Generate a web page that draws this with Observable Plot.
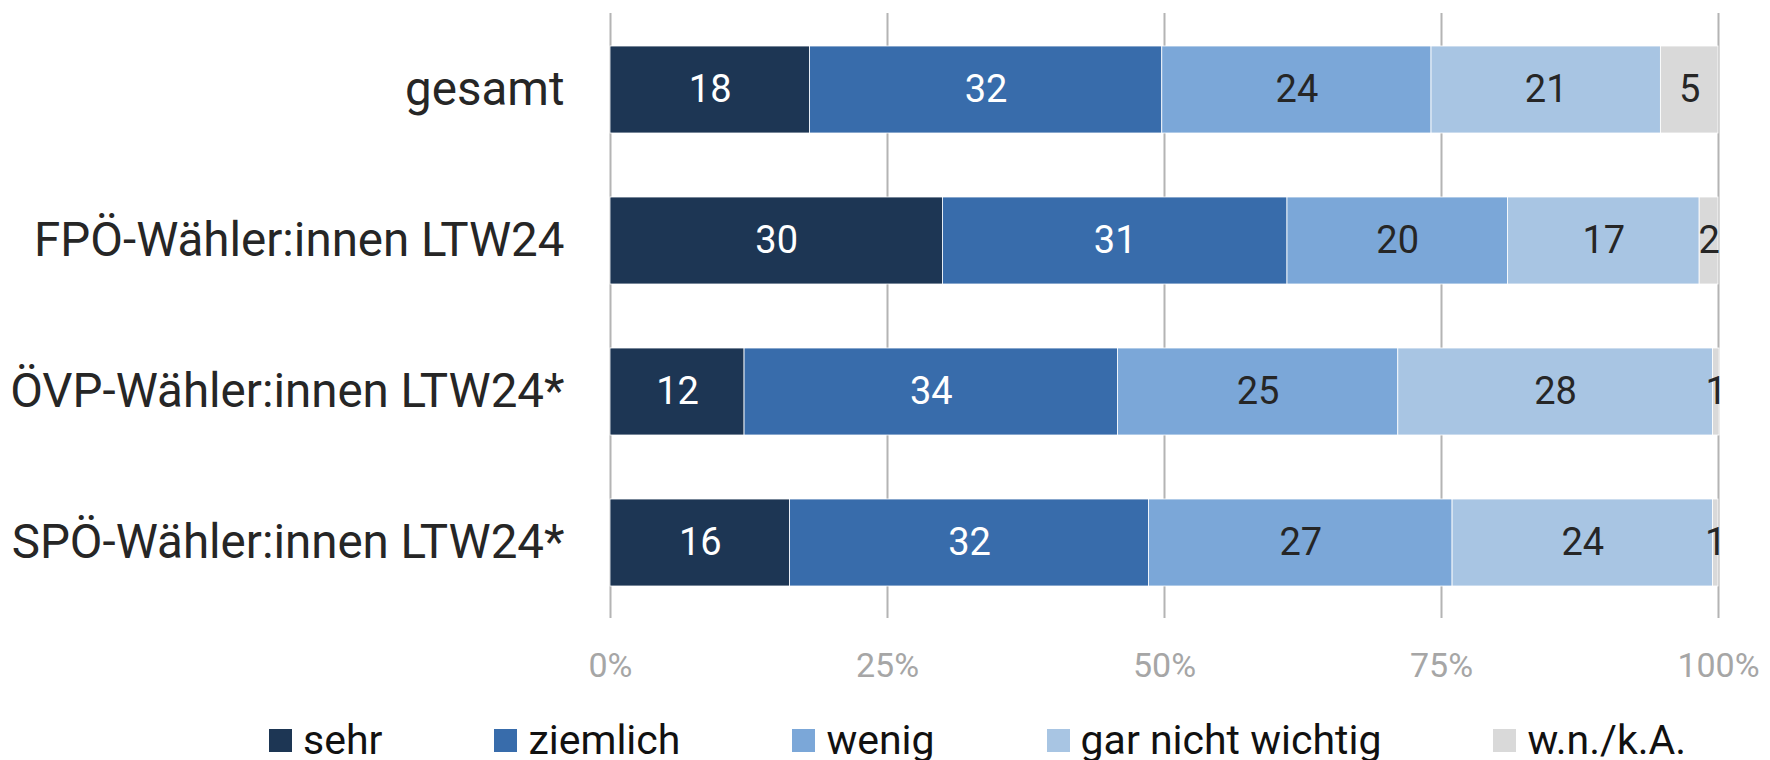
<!DOCTYPE html>
<html>
<head>
<meta charset="utf-8">
<script src="https://cdn.jsdelivr.net/npm/d3@7"></script>
<script src="https://cdn.jsdelivr.net/npm/@observablehq/plot@0.6"></script>
<style>
  html, body { margin: 0; padding: 0; background: #fff; }
  body { width: 1770px; height: 760px; overflow: hidden; font-family: Roboto, "Noto Sans", sans-serif; }
  #legend { display: flex; align-items: center; gap: 112px; padding-left: 269px; height: 40px; margin-top: 20px; }
  .item { display: flex; align-items: center; gap: 11px; font-size: 41px; color: #111; line-height: 1; }
  .sw { width: 23px; height: 23px; display: inline-block; }
</style>
</head>
<body>
<div id="chart"></div>
<div id="legend"></div>
<script>
const categories = ["gesamt", "FPÖ-Wähler:innen LTW24", "ÖVP-Wähler:innen LTW24*", "SPÖ-Wähler:innen LTW24*"];
const series = ["sehr", "ziemlich", "wenig", "gar nicht wichtig", "w.n./k.A."];
const colors = ["#1d3654", "#386cab", "#7ba7d8", "#a8c5e3", "#d9d9d9"];
const sehr      = [18.0, 30.0, 12.1, 16.2];
const ziemlich  = [31.8, 31.1, 33.7, 32.4];
const wenig     = [24.3, 19.9, 25.3, 27.4];
const garNicht  = [20.7, 17.3, 28.4, 23.5];
const wnka      = [5.2, 1.7, 0.6, 0.5];
const ticks = [0, 25, 50, 75, 100];
const whiteLabelSeries = ["sehr", "ziemlich"];

const seriesValues = [sehr, ziemlich, wenig, garNicht, wnka];
const data = [];
categories.forEach((cat, i) => {
  series.forEach((s, j) => data.push({cat, series: s, value: seriesValues[j][i]}));
});

const label = d => String(Math.round(d.value));
const isWhite = d => whiteLabelSeries.includes(d.series);
const textStack = (textFn, fill) => Plot.stackX({
  x: "value", y: "cat", z: "series", order: series, text: textFn,
  fill, fontSize: 38, textAnchor: "middle"
});

const chart = Plot.plot({
  width: 1770,
  height: 700,
  marginLeft: 610,
  marginRight: 52,
  marginTop: 13,
  marginBottom: 82,
  style: {fontFamily: "Roboto, 'Noto Sans', sans-serif", background: "#fff"},
  x: {domain: [0, 100], label: null},
  y: {domain: categories, paddingInner: 0.424, paddingOuter: 0.212, label: null},
  color: {domain: series, range: colors},
  marks: [
    Plot.gridX(ticks, {stroke: "#b4b4b4", strokeOpacity: 1, strokeWidth: 2}),
    Plot.barX(data, Plot.stackX({x: "value", y: "cat", fill: "series", order: series, stroke: "#ffffff", strokeWidth: 0.8})),
    Plot.text(data, textStack(d => isWhite(d) ? label(d) : "", "#ffffff")),
    Plot.text(data, textStack(d => isWhite(d) ? "" : label(d), "#262626")),
    Plot.axisX(ticks, {tickSize: 0, tickPadding: 34, fontSize: 34, color: "#a6a6a6", tickFormat: d => d + "%"}),
    Plot.axisY({tickSize: 0, tickPadding: 46, fontSize: 47.5, color: "#262626"})
  ]
});
document.getElementById("chart").appendChild(chart);

const legend = document.getElementById("legend");
series.forEach((s, j) => {
  const item = document.createElement("div");
  item.className = "item";
  const sw = document.createElement("span");
  sw.className = "sw";
  sw.style.background = colors[j];
  const t = document.createElement("span");
  t.textContent = s;
  item.appendChild(sw);
  item.appendChild(t);
  legend.appendChild(item);
});
</script>
</body>
</html>
